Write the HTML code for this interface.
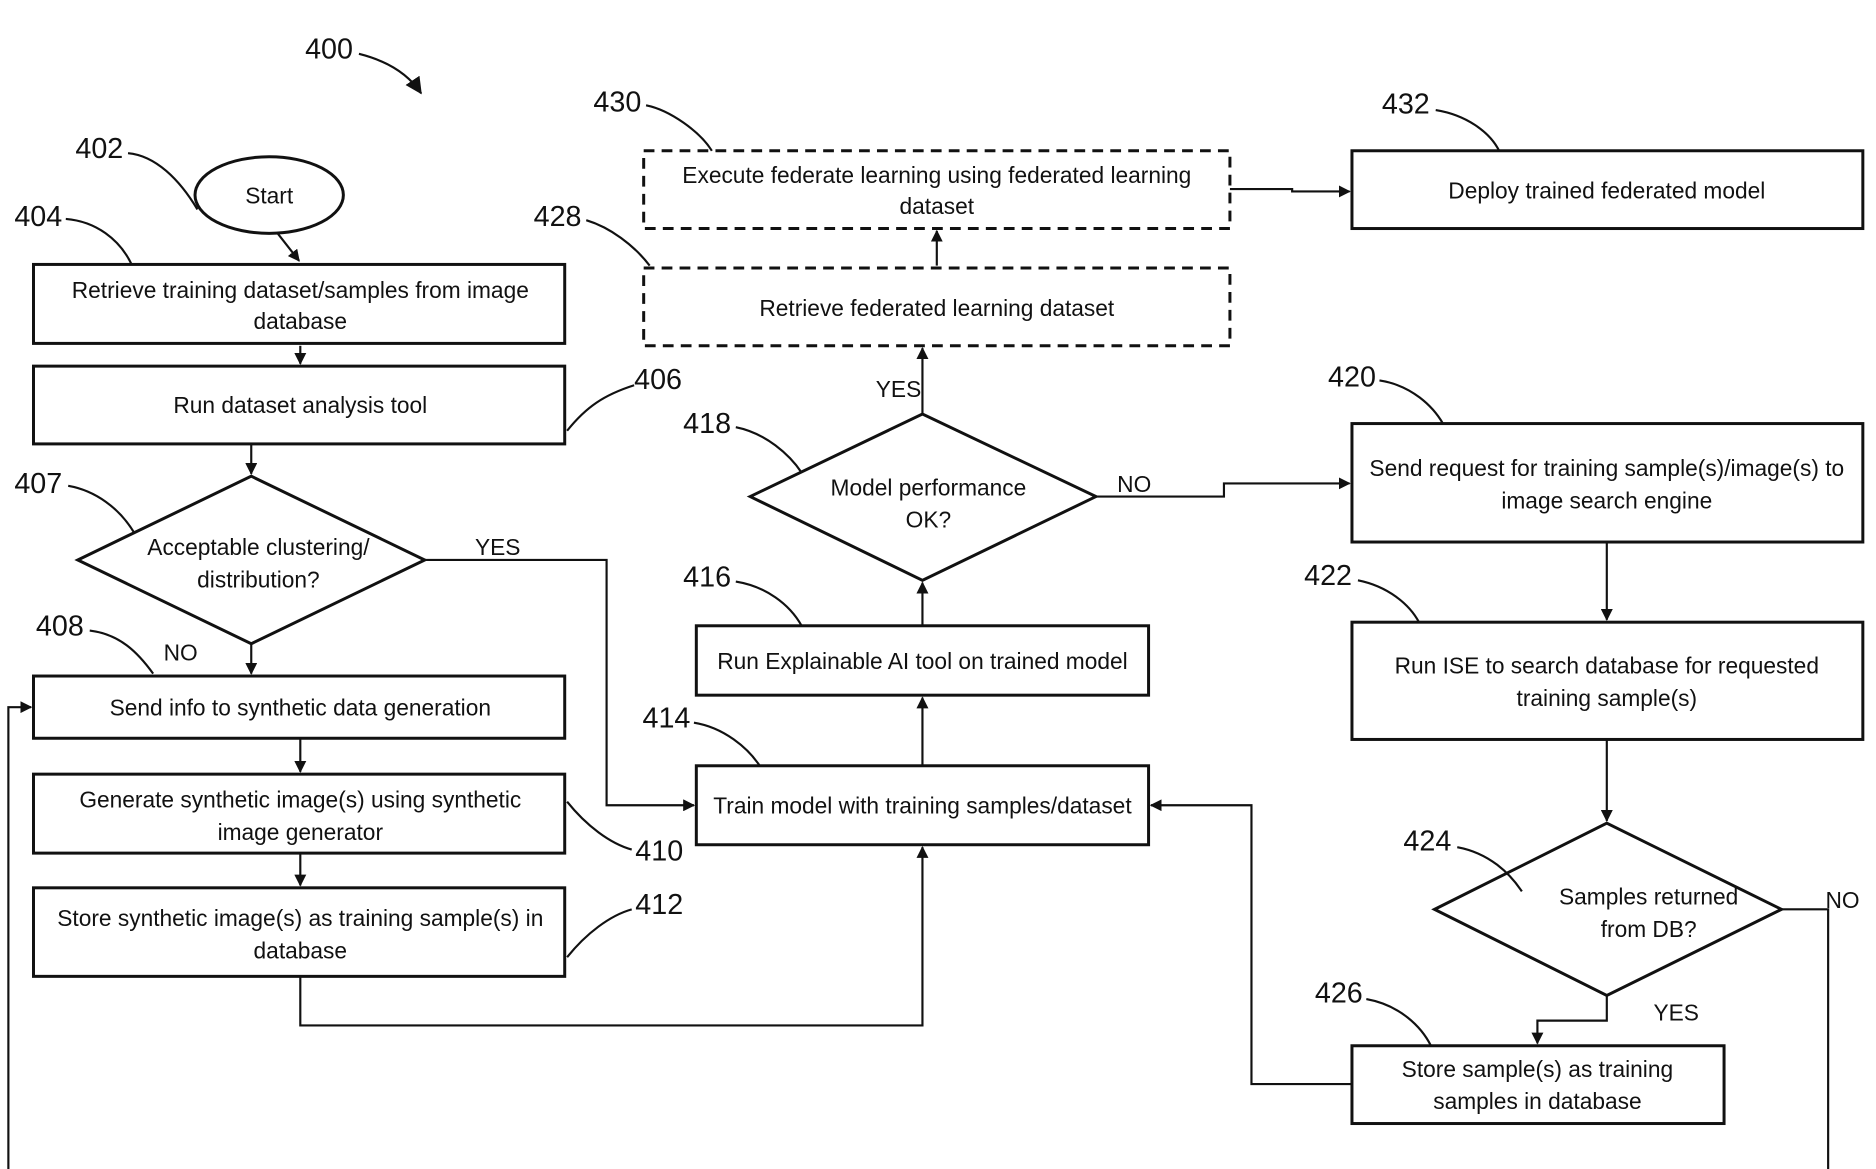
<!DOCTYPE html>
<html><head><meta charset="utf-8"><style>
html,body{margin:0;padding:0;background:#fff;}
svg{display:block;}
text{font-family:"Liberation Sans",Arial,sans-serif;fill:#111;}
.t{font-size:19px;text-anchor:middle;}
.n{font-size:24px;}
</style></head><body>
<svg width="1876" height="1169" viewBox="0 0 1568 977" preserveAspectRatio="none" xmlns="http://www.w3.org/2000/svg">
<defs><marker id="a" markerWidth="10" markerHeight="10" refX="9" refY="5" orient="auto" markerUnits="userSpaceOnUse"><path d="M0,0 L10,5 L0,10 z" fill="#111"/></marker>
<marker id="b" markerWidth="14" markerHeight="14" refX="13" refY="7" orient="auto" markerUnits="userSpaceOnUse"><path d="M0,0 L14,7 L0,14 z" fill="#111"/></marker></defs>
<g fill="none" stroke="#111" stroke-width="2.5">
<ellipse cx="225" cy="163" rx="62" ry="32"/>
<rect x="28" y="221" width="444" height="66"/>
<rect x="28" y="306" width="444" height="65"/>
<polygon points="65,468 210,398 355,468 210,538"/>
<rect x="28" y="565" width="444" height="52"/>
<rect x="28" y="647" width="444" height="66"/>
<rect x="28" y="742" width="444" height="74"/>
<rect x="582" y="640" width="378" height="66"/>
<rect x="582" y="523" width="378" height="58"/>
<polygon points="627,415 771,346 916,415 771,485"/>
<rect x="538" y="224" width="490" height="65" stroke-dasharray="9,6"/>
<rect x="538" y="126" width="490" height="65" stroke-dasharray="9,6"/>
<rect x="1130" y="126" width="427" height="65"/>
<rect x="1130" y="354" width="427" height="99"/>
<rect x="1130" y="520" width="427" height="98"/>
<polygon points="1199,760 1343,688 1489,760 1343,832"/>
<rect x="1130" y="874" width="311" height="65"/>
</g>
<g fill="none" stroke="#111" stroke-width="1.8">
<path d="M232,195 L250,218" marker-end="url(#a)"/>
<path d="M251,289 L251,304" marker-end="url(#a)"/>
<path d="M210,371 L210,396" marker-end="url(#a)"/>
<path d="M210,538 L210,563" marker-end="url(#a)"/>
<path d="M251,617 L251,645" marker-end="url(#a)"/>
<path d="M251,713 L251,740" marker-end="url(#a)"/>
<path d="M355,468 L507,468 L507,673 L580,673" marker-end="url(#a)"/>
<path d="M251,816 L251,857 L771,857 L771,708" marker-end="url(#a)"/>
<path d="M771,640 L771,583" marker-end="url(#a)"/>
<path d="M771,523 L771,487" marker-end="url(#a)"/>
<path d="M771,346 L771,291" marker-end="url(#a)"/>
<path d="M783,222 L783,193" marker-end="url(#a)"/>
<path d="M1028,158 L1080,158 L1080,160 L1128,160" marker-end="url(#a)"/>
<path d="M916,415 L1023,415 L1023,404 L1128,404" marker-end="url(#a)"/>
<path d="M1343,453 L1343,518" marker-end="url(#a)"/>
<path d="M1343,618 L1343,686" marker-end="url(#a)"/>
<path d="M1343,832 L1343,853 L1285,853 L1285,872" marker-end="url(#a)"/>
<path d="M1489,760 L1528,760 L1528,977"/>
<path d="M1130,906 L1046,906 L1046,673 L962,673" marker-end="url(#a)"/>
<path d="M7,977 L7,591 L26,591" marker-end="url(#a)"/>
<path d="M300,45 C320,50 340,60 352,78" marker-end="url(#b)"/>
<path d="M107,128 C130,130 150,150 165,175"/>
<path d="M55,183 C80,185 100,200 110,221"/>
<path d="M474,360 C490,340 505,330 530,322"/>
<path d="M57,406 C80,410 100,425 112,445"/>
<path d="M75,527 C100,530 115,545 128,563"/>
<path d="M474,670 C490,690 510,705 528,710"/>
<path d="M474,800 C490,780 510,765 528,760"/>
<path d="M580,604 C605,608 625,625 635,640"/>
<path d="M615,486 C640,490 660,505 670,523"/>
<path d="M615,357 C640,362 660,380 670,395"/>
<path d="M490,184 C510,190 530,205 543,222"/>
<path d="M540,88 C560,92 585,110 595,126"/>
<path d="M1200,92 C1225,96 1245,110 1253,126"/>
<path d="M1153,318 C1180,322 1198,340 1206,354"/>
<path d="M1135,485 C1160,490 1178,505 1186,520"/>
<path d="M1218,708 C1245,713 1262,730 1272,745"/>
<path d="M1142,835 C1170,840 1188,858 1196,874"/>
</g>
<text class="t" x="225" y="170">Start</text>
<text class="t" x="251" y="249">Retrieve training dataset/samples from image</text>
<text class="t" x="251" y="275">database</text>
<text class="t" x="251" y="345">Run dataset analysis tool</text>
<text class="t" x="216" y="464">Acceptable clustering/</text>
<text class="t" x="216" y="491">distribution?</text>
<text class="t" x="251" y="598">Send info to synthetic data generation</text>
<text class="t" x="251" y="675">Generate synthetic image(s) using synthetic</text>
<text class="t" x="251" y="702">image generator</text>
<text class="t" x="251" y="774">Store synthetic image(s) as training sample(s) in</text>
<text class="t" x="251" y="801">database</text>
<text class="t" x="771" y="680">Train model with training samples/dataset</text>
<text class="t" x="771" y="559">Run Explainable AI tool on trained model</text>
<text class="t" x="776" y="414">Model performance</text>
<text class="t" x="776" y="441">OK?</text>
<text class="t" x="783" y="264">Retrieve federated learning dataset</text>
<text class="t" x="783" y="153">Execute federate learning using federated learning</text>
<text class="t" x="783" y="179">dataset</text>
<text class="t" x="1343" y="166">Deploy trained federated model</text>
<text class="t" x="1343" y="398">Send request for training sample(s)/image(s) to</text>
<text class="t" x="1343" y="425">image search engine</text>
<text class="t" x="1343" y="563">Run ISE to search database for requested</text>
<text class="t" x="1343" y="590">training sample(s)</text>
<text class="t" x="1378" y="756">Samples returned</text>
<text class="t" x="1378" y="783">from DB?</text>
<text class="t" x="1285" y="900">Store sample(s) as training</text>
<text class="t" x="1285" y="927">samples in database</text>
<text class="t" x="416" y="464">YES</text>
<text class="t" x="151" y="552">NO</text>
<text class="t" x="751" y="332">YES</text>
<text class="t" x="948" y="411">NO</text>
<text class="t" x="1540" y="759">NO</text>
<text class="t" x="1401" y="853">YES</text>
<text class="n" x="255" y="49">400</text>
<text class="n" x="63" y="132">402</text>
<text class="n" x="12" y="189">404</text>
<text class="n" x="530" y="325">406</text>
<text class="n" x="12" y="412">407</text>
<text class="n" x="30" y="531">408</text>
<text class="n" x="531" y="719">410</text>
<text class="n" x="531" y="764">412</text>
<text class="n" x="537" y="608">414</text>
<text class="n" x="571" y="490">416</text>
<text class="n" x="571" y="362">418</text>
<text class="n" x="1110" y="323">420</text>
<text class="n" x="1090" y="489">422</text>
<text class="n" x="1173" y="711">424</text>
<text class="n" x="1099" y="838">426</text>
<text class="n" x="446" y="189">428</text>
<text class="n" x="496" y="93">430</text>
<text class="n" x="1155" y="95">432</text>
</svg>
</body></html>
